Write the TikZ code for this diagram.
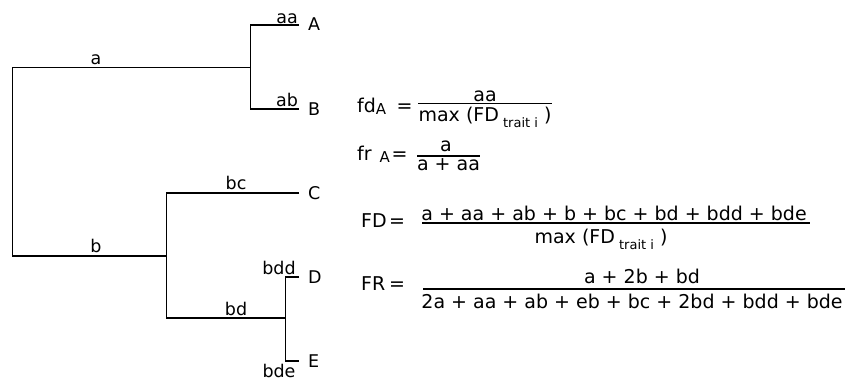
\documentclass[tikz,border=0pt]{standalone}
\usepackage{fontspec}
\setmainfont{DejaVu Sans}
\usetikzlibrary{math}

\newcommand{\lowsub}[2][6pt]{\raisebox{-#1}{\fontsize{13}{14}\selectfont #2}}
\newcommand{\sidx}[1]{\raisebox{-2.5pt}{\fontsize{15}{16}\selectfont #1}}

\begin{document}
\begin{tikzpicture}[x=1pt, y=-1pt,
    branch/.style={black, line width=1.3pt},
    fracbar/.style={black, line width=1.3pt},
    lbl/.style={anchor=base, inner sep=0pt, font=\fontsize{17.5}{20}\selectfont},
    leaf/.style={anchor=base west, inner sep=0pt, font=\fontsize{17.5}{20}\selectfont},
    eqn/.style={anchor=base, inner sep=0pt, font=\fontsize{19}{22}\selectfont}]

\useasboundingbox (0,0) rectangle (845,381);

% Position settings
\tikzmath{
    \RootX = 12.7;
    \NodeAX = 250.7;
    \NodeBX = 166.7;
    \NodeBDX = 285.7;
    \TipX = 299;
}

\coordinate (R0) at (\RootX,67.3);
\coordinate (R1) at (\RootX,256);
\coordinate (NA) at (\NodeAX,67.3);
\coordinate (NA0) at (\NodeAX,25);
\coordinate (NA1) at (\NodeAX,109);
\coordinate (NB) at (\NodeBX,256);
\coordinate (NB0) at (\NodeBX,193);
\coordinate (NB1) at (\NodeBX,318);
\coordinate (NBD) at (\NodeBDX,318);
\coordinate (NBD0) at (\NodeBDX,277);
\coordinate (NBD1) at (\NodeBDX,361);
\coordinate (TA) at (\TipX,25);
\coordinate (TB) at (\TipX,109);
\coordinate (TC) at (\TipX,193);
\coordinate (TD) at (\TipX,277);
\coordinate (TE) at (\TipX,361);

% Draws tree
\draw [branch] (NA) -- (R0) -- (R1) -- (NB);
\draw [branch] (TA) -- (NA0) -- (NA1) -- (TB);
\draw [branch] (TC) -- (NB0) -- (NB1) -- (NBD);
\draw [branch] (TD) -- (NBD0) -- (NBD1) -- (TE);

% Branch labels
\node [lbl] (la) at (96,64) {a};
\node [lbl] (laa) at (287,23) {aa};
\node [lbl] (lab) at (287,106) {ab};
\node [lbl] (lb) at (96,252) {b};
\node [lbl] (lbc) at (236,189) {bc};
\node [lbl] (lbd) at (236,315) {bd};
\node [lbl] (lbdd) at (279,274) {bdd};
\node [lbl] (lbde) at (279,377) {bde};

% Species
\node [leaf] (A) at (308,30) {A};
\node [leaf] (B) at (308,115) {B};
\node [leaf] (C) at (308,199) {C};
\node [leaf] (D) at (308,283) {D};
\node [leaf] (E) at (308,367) {E};

% fd_A
\node [eqn, anchor=base west] (fdL) at (357,112) {fd\sidx{A}};
\node [eqn] (fdEq) at (404.5,112) {=};
\node [eqn] (fdN) at (485,101.5) {aa};
\node [eqn] (fdD) at (485,121) {max (FD\lowsub{ trait i} )};
\coordinate (fdB0) at (418,103.5);
\coordinate (fdB1) at (552,103.5);
\draw [fracbar] (fdB0) -- (fdB1);

% fr_A
\node [eqn, anchor=base west] (frL) at (357,160) {fr\hspace{8pt}\sidx{A}};
\node [eqn] (frEq) at (399.5,160) {=};
\node [eqn] (frN) at (446,151.5) {a};
\node [eqn] (frD) at (448.5,170) {a + aa};
\coordinate (frB0) at (417,156);
\coordinate (frB1) at (480,156);
\draw [fracbar] (frB0) -- (frB1);

% FD
\node [eqn, anchor=base west] (FDL) at (361,227) {FD};
\node [eqn] (FDEq) at (397,227) {=};
\node [eqn] (FDN) at (614,220) {a + aa + ab + b + bc + bd + bdd + bde};
\node [eqn] (FDD) at (601,243) {max (FD\lowsub{ trait i} )};
\coordinate (FDB0) at (422,223);
\coordinate (FDB1) at (810,223);
\draw [fracbar] (FDB0) -- (FDB1);

% FR
\node [eqn, anchor=base west] (FRL) at (361,290) {FR};
\node [eqn] (FREq) at (397,290) {=};
\node [eqn] (FRN) at (642,283) {a + 2b + bd};
\node [eqn] (FRD) at (632,308) {2a + aa + ab + eb + bc + 2bd + bdd + bde};
\coordinate (FRB0) at (423,289);
\coordinate (FRB1) at (845,289);
\draw [fracbar] (FRB0) -- (FRB1);

\end{tikzpicture}
\end{document}
